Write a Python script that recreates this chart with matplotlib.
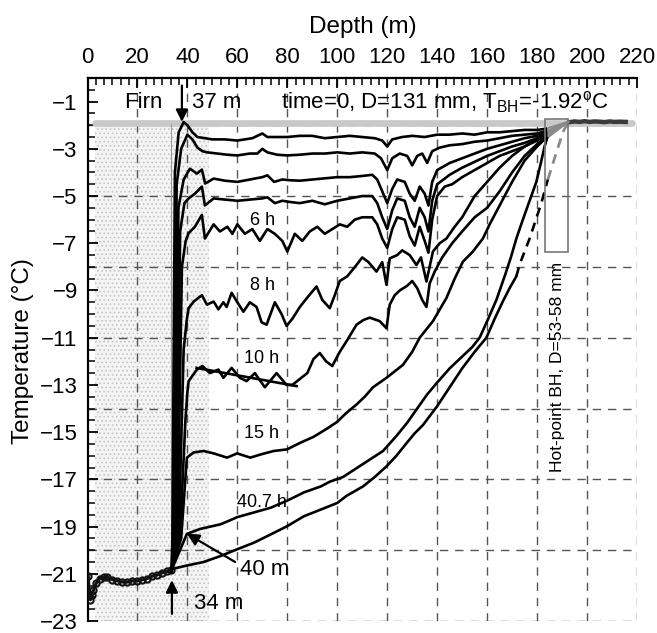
import matplotlib
matplotlib.use("Agg")
import matplotlib.pyplot as plt
from matplotlib.ticker import MultipleLocator
from matplotlib.patches import Rectangle

plt.rcParams['font.family'] = ['Liberation Sans', 'DejaVu Sans']
plt.rcParams['mathtext.fontset'] = 'custom'
plt.rcParams['mathtext.rm'] = 'Liberation Sans'
plt.rcParams['mathtext.it'] = 'Liberation Sans:italic'
plt.rcParams['hatch.linewidth'] = 0.7

# ---------------- data (depth m, temperature degC) ----------------
firn_profile = [(0.3, -21.1), (0.8, -21.9), (1.2, -22.1), (1.8, -21.9), (2.4, -21.7), (3.5, -21.4),
                (5, -21.2), (6.5, -21.15), (8, -21.15), (10, -21.25), (12, -21.3), (14, -21.35),
                (16, -21.35), (18, -21.3), (20, -21.3), (22, -21.25), (24, -21.2), (26, -21.1),
                (28, -21.05), (30, -20.95), (32, -20.9), (33.6, -20.85)]

initial_depth = [3, 218]
initial_temp = [-1.92, -1.92]
initial_wall_depth = [33.3, 33.3]
initial_wall_temp = [-20.9, -1.95]

hotpoint_depth = [193, 195, 197, 199, 201, 203, 205, 207, 209, 211, 213, 215.5]
hotpoint_temp = [-1.87, -1.84, -1.86, -1.83, -1.86, -1.84, -1.85, -1.87, -1.84, -1.86, -1.85, -1.86]

curve_a = [(33.6, -20.9), (34.0, -19.5), (35.0, -4.0), (36.5, -2.3), (38.5, -1.87), (40, -2.0), (42, -2.3),
           (44, -2.5), (47, -2.55), (50, -2.6), (55, -2.6), (60, -2.65), (63, -2.6), (66, -2.55),
           (70, -2.35), (72, -2.5), (76, -2.5), (80, -2.5), (85, -2.45), (90, -2.45), (95, -2.55),
           (100, -2.5), (105, -2.45), (110, -2.5), (115, -2.55), (118, -2.65), (120, -2.9), (122, -2.6),
           (126, -2.5), (130, -2.45), (135, -2.5), (140, -2.4), (145, -2.4), (150, -2.35), (155, -2.4),
           (160, -2.3), (165, -2.3), (170, -2.25), (175, -2.2), (180, -2.2), (183.5, -2.15)]
curve_b = [(33.6, -20.9), (34.5, -19.5), (35.7, -4.5), (37.5, -3.0), (40, -2.4), (42, -2.6), (44, -2.95),
           (46, -3.1), (48, -3.15), (52, -3.2), (56, -3.25), (60, -3.28), (65, -3.2), (68, -3.2),
           (70, -3.0), (72, -3.15), (76, -3.25), (80, -3.28), (85, -3.25), (90, -3.2), (95, -3.2),
           (100, -3.15), (105, -3.2), (110, -3.15), (115, -3.2), (117.5, -3.4), (120, -3.9),
           (122, -3.4), (125, -3.2), (128, -3.3), (130, -3.7), (132, -3.3), (134, -3.2), (136, -3.6),
           (138, -3.1), (141, -2.95), (145, -2.85), (150, -2.8), (155, -2.7), (160, -2.65),
           (165, -2.55), (170, -2.45), (175, -2.4), (180, -2.35), (183.5, -2.25)]
curve_c = [(33.6, -20.9), (35.0, -19.5), (36.4, -5.5), (38.5, -4.3), (41, -3.84), (43.8, -4.05),
           (45.8, -3.88), (47.1, -4.47), (50.5, -4.26), (55, -4.35), (60, -4.4), (65, -4.3),
           (70, -4.2), (72, -4.12), (74.7, -4.4), (78, -4.3), (81, -4.33), (85, -4.35), (90, -4.3),
           (95, -4.25), (100, -4.2), (105, -4.2), (110, -4.15), (114, -4.1), (116, -4.3), (118, -4.8),
           (120, -5.3), (122, -4.7), (124, -4.3), (127, -4.4), (129, -4.9), (131, -5.2), (133, -4.6),
           (135, -4.9), (136.5, -5.4), (138, -4.4), (140, -3.9), (145, -3.6), (150, -3.4),
           (155, -3.2), (160, -3.0), (165, -2.85), (170, -2.7), (175, -2.55), (180, -2.45),
           (183.5, -2.3)]
curve_d = [(33.6, -20.9), (35.5, -19.5), (37.1, -6.5), (38.8, -5.3), (40.5, -5.1), (43, -4.9), (45.8, -4.6),
           (47, -5.4), (50.5, -5.1), (55, -5.15), (60, -5.2), (65, -5.15), (70, -5.1), (72, -5.05),
           (75, -5.3), (78, -5.2), (81, -5.25), (85, -5.3), (90, -5.2), (95, -5.35), (100, -5.2),
           (105, -5.1), (110, -5.0), (114, -5.0), (116, -5.3), (118, -5.9), (120, -6.4), (122, -5.6),
           (124, -5.1), (127, -5.2), (129, -5.9), (131, -6.3), (133, -5.5), (135, -5.9), (136.5, -6.5),
           (138, -5.2), (140, -4.5), (145, -4.1), (150, -3.8), (155, -3.55), (160, -3.3), (165, -3.1),
           (170, -2.9), (175, -2.75), (180, -2.55), (183.5, -2.35)]
curve_6h = [(33.6, -20.9), (36.0, -19.5), (37.8, -8.0), (39.3, -6.9), (40.5, -6.57), (43, -6.3),
            (45.8, -5.8), (47, -6.8), (50.5, -6.2), (53, -6.5), (56, -6.3), (58, -6.6), (60, -6.2),
            (63, -6.6), (66, -6.4), (69, -6.9), (72, -6.4), (75, -6.6), (78, -6.9), (80, -7.35),
            (83, -6.6), (86, -6.9), (89, -6.5), (92, -6.3), (95, -6.6), (98, -6.4), (101, -6.2),
            (104, -6.3), (107, -6.0), (110, -5.9), (114, -5.9), (116, -6.2), (118, -6.8), (120, -7.2),
            (122, -6.4), (124, -5.9), (127, -6.0), (129, -6.7), (131, -7.1), (133, -6.3), (135, -6.9),
            (136.5, -7.4), (138, -6.0), (140, -5.0), (143, -4.6), (146, -4.5), (150, -4.2),
            (155, -3.9), (160, -3.6), (165, -3.3), (170, -3.1), (175, -2.9), (180, -2.65),
            (183.5, -2.4)]
curve_8h = [(33.6, -20.9), (36.5, -19.5), (38.5, -11.5), (39.8, -10.2), (40.5, -9.75), (42.5, -9.47),
            (45.8, -9.2), (47.8, -9.6), (50.5, -9.47), (52.4, -9.8), (54.4, -9.5), (55.7, -9.7),
            (57.7, -9.1), (59.7, -9.45), (62.4, -9.9), (65, -9.5), (67.7, -9.7), (69.7, -10.35),
            (71.7, -10.45), (75, -9.5), (77.7, -10.0), (79.7, -10.5), (82, -10.2), (85, -9.7),
            (88, -9.3), (91.7, -8.83), (94, -9.4), (97, -9.75), (99, -9.2), (101, -8.6), (104, -8.4),
            (107.7, -7.92), (110, -7.6), (112.5, -7.8), (115.7, -8.2), (118, -7.8), (119.7, -8.76),
            (121, -7.64), (124, -7.5), (126, -7.3), (129, -7.5), (131.7, -7.92), (133.5, -7.6),
            (135.7, -8.62), (138.3, -7.35), (141, -7.0), (143.7, -6.8), (147, -6.3), (150, -5.9),
            (155, -5.0), (160, -4.4), (165, -3.8), (170, -3.3), (175, -2.9), (180, -2.6),
            (183.5, -2.45)]
curve_10h = [(33.6, -20.9), (37.0, -19.5), (39.2, -14.5), (40.0, -13.3), (40.5, -12.84), (43.8, -12.35),
             (46, -12.2), (49, -12.5), (52.4, -12.35), (54.4, -12.7), (57.7, -12.28), (61, -12.7),
             (63.7, -12.84), (67, -12.5), (71, -13.1), (75.7, -12.5), (79.7, -13.0), (82, -13.0),
             (85, -12.75), (88, -12.5), (90.5, -11.9), (93, -11.65), (95.5, -12.0), (98, -12.2),
             (101, -11.6), (104, -11.1), (107.7, -10.45), (110.5, -10.25), (113, -10.15), (117, -10.3),
             (119.7, -10.6), (121, -9.6), (123, -9.2), (125, -9.0), (128, -8.8), (130, -8.6),
             (132, -8.9), (134, -9.4), (135.7, -9.7), (137, -8.7), (139, -8.2), (142, -7.6),
             (146, -7.0), (150, -6.5), (155, -5.9), (160, -5.5), (165, -4.8), (170, -4.0),
             (175, -3.3), (180, -2.8), (183.5, -2.5)]
fit_10h = [(43.7, -12.28), (83.7, -13.05)]
curve_15h = [(33.8, -20.8), (37.5, -19.5), (39.3, -16.8), (39.8, -16.08), (42.5, -15.86), (46.5, -15.8),
             (50.5, -15.9), (55.9, -16.08), (59.9, -15.9), (65.2, -16.08), (69.2, -15.95), (74.5, -15.8),
             (79.9, -15.73), (85.2, -15.45), (90.5, -15.2), (95.9, -14.85), (99.9, -14.57),
             (103.5, -14.2), (107.7, -13.83), (111, -13.5), (114.3, -13.1), (119.7, -12.7),
             (126.3, -12.15), (130, -11.6), (133, -11.0), (138.3, -10.3), (143.7, -9.32), (147, -8.5),
             (150.3, -7.78), (154.3, -7.35), (158.3, -6.8), (161, -6.2), (165, -5.4), (170, -4.4),
             (175, -3.5), (180, -2.9), (183.5, -2.55)]
curve_40h = [(33.8, -20.8), (39.8, -19.31), (45.1, -19.1), (53.4, -18.9), (60, -18.6), (66.7, -18.4),
             (73.4, -18.2), (80, -17.9), (86.7, -17.55), (93.4, -17.3), (97, -17.1), (102.3, -16.9),
             (110.3, -16.35), (118.3, -15.8), (123.7, -15.16), (128, -14.6), (132, -14.0),
             (136, -13.4), (140, -12.9), (145, -12.3), (150, -11.8), (154, -11.4), (157, -11.0),
             (160, -10.3), (163.7, -9.4), (167, -8.4), (169.5, -7.6), (171.7, -6.8), (174.3, -6.0),
             (177, -5.2), (179.7, -4.4), (181.5, -3.6), (183, -2.9), (184, -2.55)]
curve_last = [(33.8, -20.8), (39.8, -20.65), (46.5, -20.5), (53.2, -20.25), (60, -19.96), (66.7, -19.68),
              (73.4, -19.33), (80, -18.98), (86.7, -18.56), (93.4, -18.28), (100, -18.0), (103.7, -17.7),
              (110.3, -17.3), (115, -16.9), (119.7, -16.45), (123.7, -16.0), (127.7, -15.47),
              (131, -15.05), (134.3, -14.7), (140, -13.9), (145, -13.1), (150, -12.3), (155, -11.6),
              (159.7, -11.0), (163, -10.2), (166.3, -9.46), (169, -8.9), (171.7, -8.4)]
curve_last_extrap = [(171.7, -8.4), (173, -7.9), (177, -6.8), (181.7, -5.3), (184.3, -4.3)]
curve_last_inbox = [(184.3, -4.3), (190.3, -2.3), (192.3, -1.9)]
hotpoint_join = (192.5, -1.85)

box_depth = [183.3, 192.3]
box_temp = [-7.35, -1.73]

xgrid = [20, 40, 60, 80, 100, 120, 140, 160, 180, 200, 220]
ygrid = [-2, -5, -8, -11, -14, -17, -20, -23]
yticks = [-23, -21, -19, -17, -15, -13, -11, -9, -7, -5, -3, -1]
xticks = [0, 20, 40, 60, 80, 100, 120, 140, 160, 180, 200, 220]
firn_zone = [3, 48.5]

# ---------------- figure ----------------
fig = plt.figure(figsize=(6.57, 6.33), dpi=100)
ax = fig.add_axes([87.5 / 657, 1 - 621 / 633, (637 - 87.5) / 657, (621 - 78) / 633])
ax.set_xlim(0, 220)
ax.set_ylim(-23, 0)

# firn stipple
ax.fill_between(firn_zone, [-23, -23], [-1.95, -1.95], facecolor='#f4f4f4',
                edgecolor='#c4c4c4', hatch='....', linewidth=0, zorder=0)

# grid
for gx in xgrid:
    ax.axvline(gx, color='#555555', lw=1.0, ls=(0, (6, 5)), zorder=1)
for gy in ygrid:
    ax.axhline(gy, color='#555555', lw=1.0, ls=(0, (6, 5)), zorder=1)

# initial profile
ax.plot(initial_depth, initial_temp, color='#c8c8c8', lw=4.8, solid_capstyle='round', zorder=2)
ax.plot(initial_wall_depth, initial_wall_temp, color='#9a9a9a', lw=0.8, zorder=2)
ax.plot(hotpoint_depth, hotpoint_temp, color='#3a3a3a', lw=3.2, zorder=3)

# firn temperature profile
fd, ft = zip(*firn_profile)
ax.plot(fd, ft, color='#111111', lw=2.2, marker='o', ms=4.5, mfc='none', mew=1.5, zorder=4)

LW = 1.9
curves = [curve_a, curve_b, curve_c, curve_d, curve_6h, curve_8h, curve_10h, curve_15h, curve_40h]
for c in curves:
    d, t = zip(*c)
    ax.plot(d, t, color='k', lw=LW, zorder=4)
    ax.plot([d[-1], hotpoint_join[0]], [t[-1], hotpoint_join[1]], color='#8a8a8a', lw=1.3, zorder=3)

d, t = zip(*fit_10h)
ax.plot(d, t, color='k', lw=LW, zorder=4)
d, t = zip(*curve_last)
ax.plot(d, t, color='k', lw=LW, zorder=4)
d, t = zip(*curve_last_extrap)
ax.plot(d, t, color='k', lw=LW, ls=(0, (3.5, 2.5)), zorder=4)
d, t = zip(*curve_last_inbox)
ax.plot(d, t, color='#8a8a8a', lw=2.0, ls=(0, (3.5, 2.5)), zorder=3)

# hot-point borehole box
ax.add_patch(Rectangle((box_depth[0], box_temp[0]), box_depth[1] - box_depth[0],
                       box_temp[1] - box_temp[0], fill=False, edgecolor='#777777', lw=1.2, zorder=5))

# texts
ax.text(22.2, -1.29, 'Firn', fontsize=16, ha='center', va='baseline')
ax.text(41.8, -1.29, '37 m', fontsize=16, ha='left', va='baseline')
ax.text(143, -1.29, 'time=0, D=131 mm, T$_{\\mathrm{BH}}$=-1.92$^{\\mathrm{o}}$C', fontsize=16,
        ha='center', va='baseline')
for lab, x, y in [('6 h', 70.2, -6.23), ('8 h', 70.1, -8.97), ('10 h', 69.8, -12.07),
                  ('15 h', 69.8, -15.23), ('40.7 h', 69.8, -18.19)]:
    ax.text(x, y, lab, fontsize=13, ha='center', va='baseline', zorder=6)
ax.text(61.1, -21.07, '40 m', fontsize=16, ha='left', va='baseline')
ax.text(42.5, -22.48, '34 m', fontsize=16, ha='left', va='baseline')
ax.text(188.3, -12.23, 'Hot-point BH, D=53-58 mm', fontsize=12.5, rotation=90,
        ha='center', va='center')

arrow = dict(arrowstyle='-|>', color='k', lw=1.6, mutation_scale=18, shrinkA=0, shrinkB=0)
ax.annotate('', xy=(37.8, -1.86), xytext=(37.8, -0.32), arrowprops=arrow)
ax.annotate('', xy=(33.8, -21.27), xytext=(33.8, -22.7), arrowprops=arrow)
ax.annotate('', xy=(39.8, -19.3), xytext=(59.1, -20.5), arrowprops=arrow)

# axes styling
for s in ['bottom', 'right']:
    ax.spines[s].set_visible(False)
for s in ['left', 'top']:
    ax.spines[s].set_linewidth(1.6)
ax.xaxis.set_ticks_position('top')
ax.xaxis.set_label_position('top')
ax.set_xticks(xticks)
ax.xaxis.set_minor_locator(MultipleLocator(20 / 6))
ax.set_yticks(yticks)
ax.yaxis.set_minor_locator(MultipleLocator(0.5))
ax.tick_params(axis='both', which='major', direction='in', length=7, width=1.3, labelsize=16)
ax.tick_params(axis='both', which='minor', direction='in', length=5, width=1.1)
ax.tick_params(axis='x', which='major', pad=7.5)
ax.tick_params(axis='y', which='major', pad=7)

fig.text(362.5 / 657, 1 - 27 / 633, 'Depth (m)', fontsize=17.5, ha='center', va='center')
fig.text(23 / 657, 1 - 351.5 / 633, 'Temperature (°C)', fontsize=17.5, rotation=90,
         ha='center', va='center')

fig.savefig('out.png', dpi=100)
